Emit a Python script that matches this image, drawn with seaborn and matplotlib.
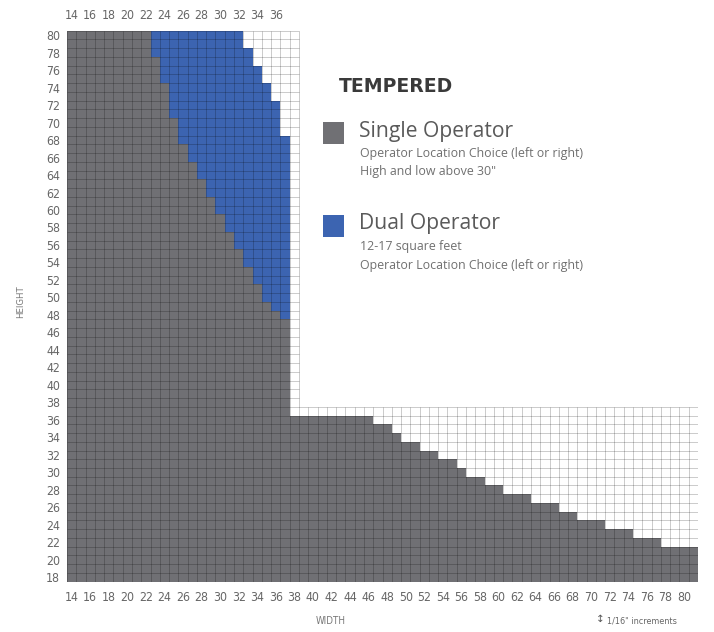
import numpy as np
import pandas as pd
import matplotlib
matplotlib.use("Agg")
import matplotlib.pyplot as plt
from matplotlib.colors import ListedColormap
from matplotlib.patches import Rectangle
from matplotlib.collections import LineCollection
from matplotlib import font_manager
import seaborn as sns

# ---- chart data -------------------------------------------------------
widths = list(range(14, 82))          # grid columns (inches)
heights = list(range(80, 17, -1))     # grid rows, top to bottom (inches)

width_ticks = list(range(14, 81, 2))
top_width_ticks = list(range(14, 37, 2))
height_ticks = list(range(80, 17, -2))

# short glass (height 18-36): widest single-operator size per height
low_heights = [18, 19, 20, 21, 22, 23, 24, 25, 26, 27, 28, 29, 30, 31, 32, 33, 34, 35, 36]
low_max_width = [81, 81, 81, 81, 77, 74, 71, 68, 66, 63, 60, 58, 56, 55, 53, 51, 49, 48, 46]

# mid band (height 37-47): single operator up to this width
mid_max_width = 37

# tall glass (height 48-80): widest single and dual operator size per height
up_heights = [48, 49, 50, 51, 52, 53, 54, 55, 56, 57, 58, 59, 60, 61, 62, 63, 64,
              65, 66, 67, 68, 69, 70, 71, 72, 73, 74, 75, 76, 77, 78, 79, 80]
single_max = [36, 35, 34, 34, 33, 33, 32, 32, 31, 31, 30, 30, 29, 29, 28, 28, 27,
              27, 26, 26, 25, 25, 25, 24, 24, 24, 24, 23, 23, 23, 22, 22, 22]
dual_max = [37, 37, 37, 37, 37, 37, 37, 37, 37, 37, 37, 37, 37, 37, 37, 37, 37,
            37, 37, 37, 37, 36, 36, 36, 36, 35, 35, 34, 34, 33, 33, 32, 32]

# the narrow gridded area above 37" stops at this width
upper_grid_width = 38

categories = ["Single Operator", "Dual Operator"]
descriptions = [
    "Operator Location Choice (left or right)\nHigh and low above 30\"",
    "12-17 square feet\nOperator Location Choice (left or right)",
]

# ---- build the cell table ---------------------------------------------
low_lookup = dict(zip(low_heights, low_max_width))
single_lookup = dict(zip(up_heights, single_max))
dual_lookup = dict(zip(up_heights, dual_max))

cells = np.full((len(heights), len(widths)), np.nan)
for i, h in enumerate(heights):
    for j, w in enumerate(widths):
        if h > 37 and w > upper_grid_width:
            continue
        if h in low_lookup:
            v = 1 if w <= low_lookup[h] else 0
        elif h in single_lookup:
            if w <= single_lookup[h]:
                v = 1
            elif w <= dual_lookup[h]:
                v = 2
            else:
                v = 0
        else:
            v = 1 if w <= mid_max_width else 0
        cells[i, j] = v

df = pd.DataFrame(cells, index=heights, columns=widths)

# ---- fonts --------------------------------------------------------------
sns.set_style("white")
fonts = font_manager.fontManager.ttflist
has_condensed = any(f.name == "DejaVu Sans" and "condensed" in str(f.stretch)
                    for f in fonts)
tick_family = ["DejaVu Sans"]
tick_kw = dict(family=tick_family)
if has_condensed:
    tick_kw["stretch"] = "condensed"
    tick_size = 8.8
else:
    tick_size = 8
text_family = ["Open Sans", "DejaVu Sans"]

white_c = "#ffffff"
gray_c = "#707074"
blue_c = "#3c64b1"
cmap = ListedColormap([white_c, gray_c, blue_c])

W, H = 714, 632
fig = plt.figure(figsize=(W / 100, H / 100), dpi=100)
x0, x1, y0, y1 = 67, 698, 30.7, 581.7
ax = fig.add_axes([x0 / W, 1 - y1 / H, (x1 - x0) / W, (y1 - y0) / H])

sns.heatmap(df, ax=ax, cmap=cmap, vmin=-0.5, vmax=2.5, cbar=False,
            mask=df.isna(), linewidths=0,
            xticklabels=False, yticklabels=False, square=False)

# cell borders, only around cells that exist in the table
valid = ~np.isnan(cells)
nr, nc = valid.shape
segs = []
for r in range(nr + 1):          # horizontal borders
    above = valid[r - 1] if r > 0 else np.zeros(nc, bool)
    below = valid[r] if r < nr else np.zeros(nc, bool)
    on = above | below
    c = 0
    while c < nc:
        if on[c]:
            s = c
            while c < nc and on[c]:
                c += 1
            segs.append([(s, r), (c, r)])
        else:
            c += 1
for c in range(nc + 1):          # vertical borders
    left = valid[:, c - 1] if c > 0 else np.zeros(nr, bool)
    right = valid[:, c] if c < nc else np.zeros(nr, bool)
    on = left | right
    r = 0
    while r < nr:
        if on[r]:
            s = r
            while r < nr and on[r]:
                r += 1
            segs.append([(c, s), (c, r)])
        else:
            r += 1
ax.add_collection(LineCollection(segs, colors=[(0, 0, 0, 0.24)],
                                 linewidths=0.6, zorder=3))

for s in ax.spines.values():
    s.set_visible(False)

col_pos = {w: j + 0.5 for j, w in enumerate(widths)}
row_pos = {h: i + 0.5 for i, h in enumerate(heights)}

tick_color = "#666666"
ax.set_xticks([col_pos[w] for w in width_ticks])
ax.set_xticklabels([str(w) for w in width_ticks], fontsize=tick_size,
                   color=tick_color, **tick_kw)
ax.set_yticks([row_pos[h] for h in height_ticks])
ax.set_yticklabels([str(h) for h in height_ticks], fontsize=tick_size,
                   color=tick_color, rotation=0, **tick_kw)
ax.tick_params(length=0, pad=5)
ax.tick_params(axis="x", pad=7)

top = ax.secondary_xaxis("top")
top.set_xticks([col_pos[w] for w in top_width_ticks])
top.set_xticklabels([str(w) for w in top_width_ticks], fontsize=tick_size,
                    color=tick_color, **tick_kw)
top.tick_params(length=0, pad=6)
for s in top.spines.values():
    s.set_visible(False)

ax.set_xlabel("")
ax.set_ylabel("")

# axis captions
fig.text(21 / W, 1 - 302 / H, "HEIGHT", rotation=90, ha="center", va="center",
         fontsize=6.8, color="#777777", **tick_kw)
fig.text(331 / W, 1 - 621 / H, "WIDTH", ha="center", va="center",
         fontsize=7, color="#777777", **tick_kw)
fig.text(600 / W, 1 - 619 / H, "\u2195", ha="center", va="center",
         fontsize=7.5, color="#555555", family=["DejaVu Sans"])
fig.text(607 / W, 1 - 621 / H, "1/16\" increments", ha="left", va="center",
         fontsize=6.5, color="#666666", **tick_kw)

# legend block
fig.text(339 / W, 1 - 86 / H, "TEMPERED", ha="left", va="center",
         fontsize=13.6, weight="bold", color="#3a3a3a", family=["DejaVu Sans"])

legend_rows = [(133, gray_c), (226, blue_c)]
for (yc, col), name, desc in zip(legend_rows, categories, descriptions):
    fig.add_artist(Rectangle((323 / W, 1 - (yc + 11) / H), 21 / W, 22 / H,
                             transform=fig.transFigure, color=col, lw=0))
    fig.text(359 / W, 1 - (yc - 2) / H, name, ha="left", va="center",
             fontsize=15.2, color="#5a5a5a", family=text_family)
    fig.text(360 / W, 1 - (yc + 14) / H, desc, ha="left", va="top",
             fontsize=8.9, color="#707070", family=text_family, linespacing=1.55)

fig.savefig("out.png", dpi=100)
